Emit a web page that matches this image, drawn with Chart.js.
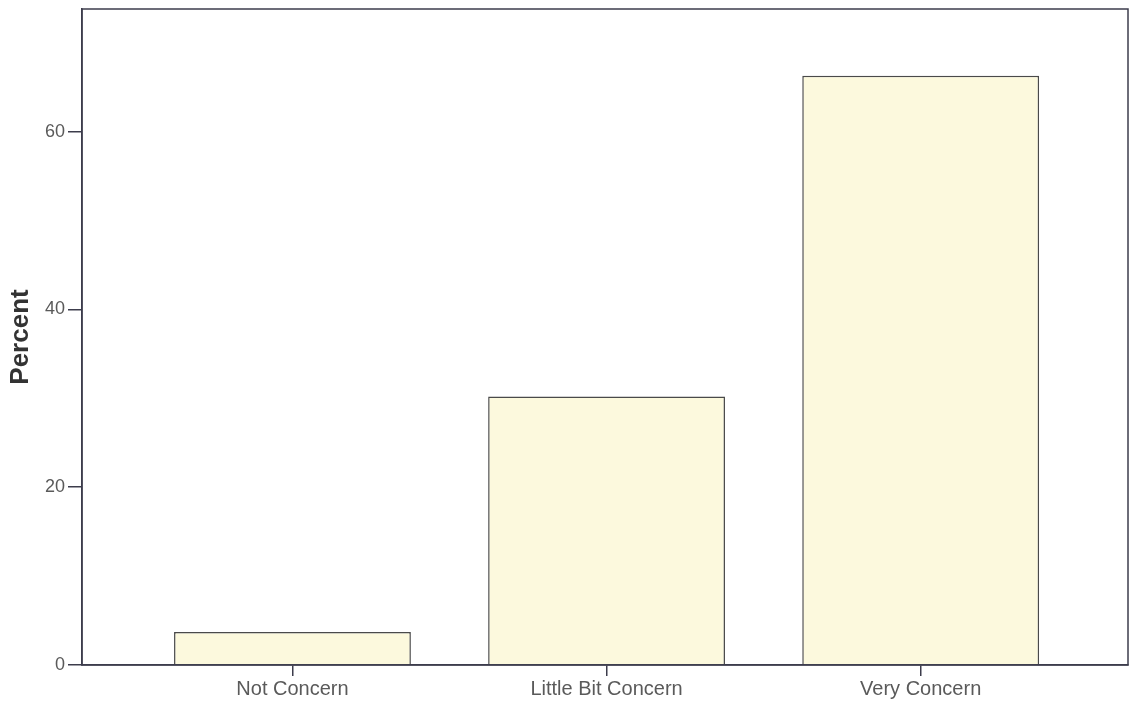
<!DOCTYPE html>
<html>
<head>
<meta charset="utf-8">
<script src="https://cdn.jsdelivr.net/npm/chart.js@4/dist/chart.umd.min.js"></script>
<style>
html,body{margin:0;padding:0;background:#fff;}
#wrap{width:1130px;height:709px;position:relative;}
</style>
</head>
<body>
<div id="wrap"><canvas id="c" width="1130" height="709"></canvas></div>
<script>
const categories = ['Not Concern', 'Little Bit Concern', 'Very Concern'];
const percentValues = [3.7, 30.2, 66.3];
const yTickValues = [0, 20, 40, 60];

const points = categories.map((c, i) => ({x: i, y: percentValues[i]}));

const framePlugin = {
  id: 'frame',
  afterDraw(chart) {
    const a = chart.chartArea, ctx = chart.ctx;
    ctx.save();
    ctx.strokeStyle = '#3c3c4c';
    ctx.lineWidth = 1.5;
    ctx.strokeRect(a.left, a.top, a.right - a.left, a.bottom - a.top);
    ctx.restore();
  }
};

new Chart(document.getElementById('c'), {
  type: 'bar',
  data: {
    datasets: [{
      data: points,
      backgroundColor: '#fcf9dd',
      borderColor: '#4a4a4a',
      borderWidth: 1.5,
      categoryPercentage: 1,
      barPercentage: 0.754
    }]
  },
  options: {
    responsive: false,
    animation: false,
    layout: {padding: {top: 9, right: 2, left: 0, bottom: 0}},
    plugins: {legend: {display: false}, tooltip: {enabled: false}},
    scales: {
      x: {
        type: 'linear',
        offset: false,
        min: -0.67,
        max: 2.66,
        afterBuildTicks(scale) { scale.ticks = categories.map((c, i) => ({value: i})); },
        afterFit(scale) { scale.height = 44; scale.paddingLeft = 0; scale.paddingRight = 0; },
        ticks: {
          callback: (v) => categories[v] ?? '',
          color: '#5a5a5a',
          font: {family: 'Liberation Sans', size: 20},
          padding: 1,
          maxRotation: 0,
          autoSkip: false
        },
        grid: {display: true, offset: false, drawOnChartArea: false, drawTicks: true, tickLength: 11, color: '#3c3c4c', lineWidth: 1.5},
        border: {display: true, color: '#3c3c4c', width: 1.5}
      },
      y: {
        min: 0,
        max: 73.8,
        afterBuildTicks(scale) { scale.ticks = yTickValues.map(v => ({value: v})); },
        afterFit(scale) { scale.width = 82; scale.paddingTop = 0; scale.paddingBottom = 0; },
        title: {
          display: true,
          text: 'Percent',
          color: '#333',
          font: {family: 'Liberation Sans', size: 26, weight: 'bold'},
          padding: {top: 5, bottom: 0}
        },
        ticks: {
          color: '#5a5a5a',
          font: {family: 'Liberation Sans', size: 18},
          padding: 3
        },
        grid: {display: true, drawOnChartArea: false, drawTicks: true, tickLength: 14, color: '#3c3c4c', lineWidth: 1.5},
        border: {display: true, color: '#3c3c4c', width: 1.5}
      }
    }
  },
  plugins: [framePlugin]
});
</script>
</body>
</html>
